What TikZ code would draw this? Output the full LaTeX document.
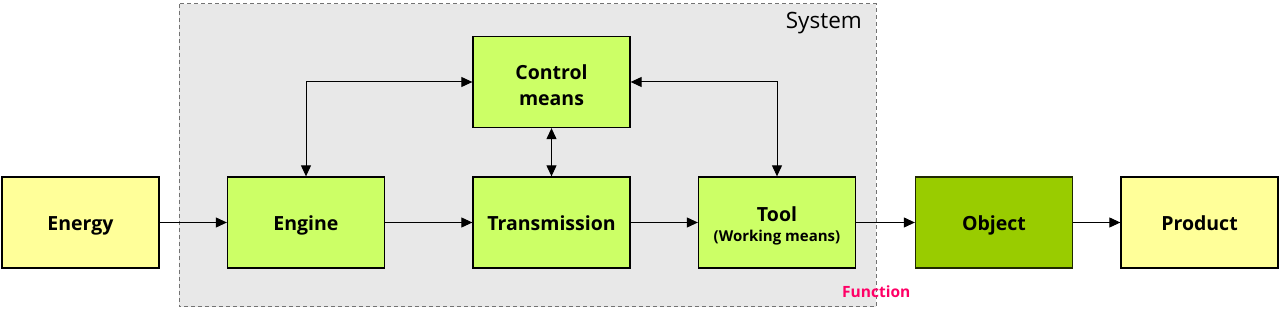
\documentclass[tikz,border=0pt]{standalone}
\usepackage{fontspec}
\setmainfont{Open Sans}
\usetikzlibrary{arrows.meta}
\definecolor{lime}{HTML}{CCFF66}
\definecolor{paleyel}{HTML}{FFFF99}
\definecolor{objgreen}{HTML}{99CC00}
\definecolor{sysgray}{HTML}{E8E8E8}
\definecolor{fnpink}{HTML}{FF0066}
\tikzset{
  blk/.style={draw=black, line width=1.3pt, minimum width=157pt, minimum height=91pt, inner sep=0pt, align=center, font=\bfseries\fontsize{19.5}{26}\selectfont},
  one/.style={text height=19pt, text depth=2pt},
  arr/.style={-{Triangle[length=11pt,width=10pt]}, line width=1pt},
  darr/.style={{Triangle[length=11pt,width=10pt]}-{Triangle[length=11pt,width=10pt]}, line width=1pt},
}
\begin{document}
\begin{tikzpicture}[x=1pt,y=-1pt]
\useasboundingbox (0,0) rectangle (1280,312);
\fill[white] (0,0) rectangle (1280,312);
\draw[fill=sysgray, draw=gray!90!black, dashed, dash pattern=on 4pt off 3pt, line width=1pt] (179,4) rectangle (876,307);
\node[anchor=north east, font=\fontsize{22.5}{26}\selectfont, inner sep=0pt] (sys) at (862,12) {System};
\node[anchor=north west, font=\bfseries\fontsize{15.5}{18}\selectfont, text=fnpink, inner sep=0pt] (fn) at (842,286) {Function};

\node[blk, one, fill=paleyel] (energy) at (80.5,222.5) {Energy};
\node[blk, one, fill=lime] (engine) at (306,222.5) {Engine};
\node[blk, one, fill=lime] (trans) at (551.5,222.5) {Transmission};
\node[blk, fill=lime] (tool) at (777,222.5) {\rule{0pt}{22pt}Tool\\[-6pt]{\fontsize{15}{18}\selectfont (Working means)}};
\node[blk, one, fill=objgreen, draw=black!80!objgreen] (object) at (994,222.5) {Object};
\node[blk, one, fill=paleyel] (product) at (1199.5,222.5) {Product};
\node[blk, fill=lime] (control) at (551.5,82) {\rule{0pt}{22pt}Control\\means};

\draw[arr] (energy) -- (engine);
\draw[arr] (engine) -- (trans);
\draw[arr] (trans) -- (tool);
\draw[arr] (tool) -- (object);
\draw[arr] (object) -- (product);
\draw[darr] (control) -- (trans);
\draw[darr] (control.west) -| (engine.north);
\draw[darr] (control.east) -| (tool.north);
\end{tikzpicture}
\end{document}
